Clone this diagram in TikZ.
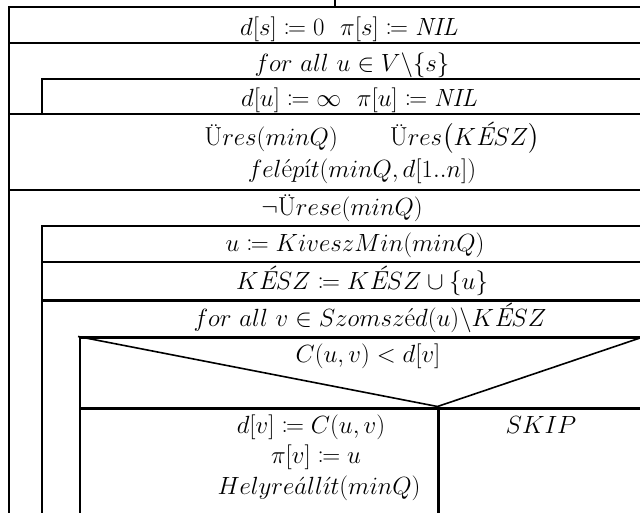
\documentclass[tikz,border=0pt]{standalone}
\usepackage{mathtools}
\newcommand{\Eac}{\text{\itshape É}}
\begin{document}
\begin{tikzpicture}[x=1pt,y=-1pt,
  ln/.style={line width=2.2pt,line cap=rect},
  txt/.style={inner sep=0pt,anchor=base,font=\fontsize{26}{30}\selectfont}]
\useasboundingbox (0,0) rectangle (640,512);
% frame lines
\draw[ln] (335,0) -- (335,7);
\draw[ln] (9,512) -- (9,7) -- (640,7);
\draw[ln] (9,43) -- (640,43);
\draw[ln] (42,114) -- (42,79) -- (640,79);
\draw[ln] (9,114) -- (640,114);
\draw[ln] (9,190) -- (640,190);
\draw[ln] (42,512) -- (42,226) -- (640,226);
\draw[ln] (42,262) -- (640,262);
\draw[ln] (42,300.5) -- (640,300.5);
\draw[ln] (80,512) -- (80,337.5) -- (640,337.5);
\draw[line width=1.6pt] (78,336.5) -- (437.5,406.5) -- (640,338);
\draw[ln] (80,408.5) -- (640,408.5);
\draw[ln] (438.5,408.5) -- (438.5,512);
% texts
\node[txt] (t1) at (349,35) {$d[s] \coloneqq 0\ \ \pi[s] \coloneqq \mathit{NIL}$};
\node[txt] (t2) at (352,71) {$for\ all\ u \in V\backslash\{s\}$};
\node[txt] (t3) at (359,106) {$d[u] \coloneqq \infty\ \ \pi[u] \coloneqq \mathit{NIL}$};
\node[txt] (t4) at (372,145) {$\text{Ü}res(minQ)\qquad \text{Ü}res\bigl(K\Eac SZ\bigr)$};
\node[txt] (t5) at (362,177) {$fel\text{é}p\text{í}t(minQ, d[1..n])$};
\node[txt] (t6) at (342,215) {$\neg\text{Ü}rese(minQ)$};
\node[txt] (t7) at (355,251) {$u \coloneqq KiveszMin(minQ)$};
\node[txt] (t8) at (362,289) {$K\Eac SZ \coloneqq K\Eac SZ \cup \{u\}$};
\node[txt] (t9) at (370,326) {$for\ all\ v \in Szomsz\text{é}d(u)\backslash K\Eac SZ$};
\node[txt] (t10) at (368,362) {$C(u,v) < d[v]$};
\node[txt] (t11) at (311,433) {$d[v] \coloneqq C(u,v)$};
\node[txt] (t12) at (316,463) {$\pi[v] \coloneqq u$};
\node[txt] (t13) at (319,494) {$Helyre\acute{a}ll\acute{\imath}t(minQ)$};
\node[txt] (t14) at (541,433) {$SKIP$};
\end{tikzpicture}
\end{document}
